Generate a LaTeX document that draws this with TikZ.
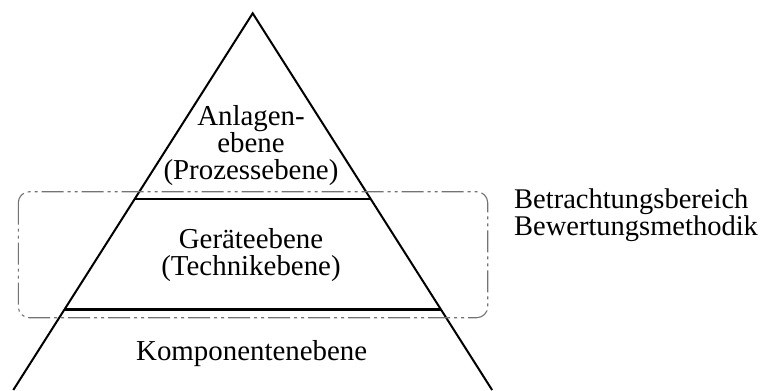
\documentclass[tikz,border=0pt]{standalone}
\usepackage{fontspec}
\setmainfont{Liberation Serif}
\usetikzlibrary{calc}
\begin{document}
\begin{tikzpicture}[x=1bp,y=-1bp,
  edge/.style={line width=2bp,line join=miter},
  level/.style={line width=2.6bp},
  scopebox/.style={draw=black!55,line width=1.1bp,rounded corners=11bp,
    dash pattern=on 22bp off 4bp on 3bp off 4bp on 3bp off 4bp},
  label/.style={font=\fontsize{29}{26.3}\selectfont,align=center,inner sep=0pt,anchor=base},
  side/.style={font=\fontsize{28.6}{25.2}\selectfont,align=left,inner sep=0pt,anchor=base west}]
\useasboundingbox (0,0) rectangle (765,390);
% pyramid outline
\coordinate (apex) at (252.7,13.3);
\coordinate (bl) at (13.3,390);
\coordinate (br) at (492.1,390);
\draw[edge] (bl) -- (apex) -- (br);
% level boundaries
\coordinate (l1) at ($(apex)!0.4934!(bl)$);
\coordinate (r1) at ($(apex)!0.4934!(br)$);
\coordinate (l2) at ($(apex)!0.7857!(bl)$);
\coordinate (r2) at ($(apex)!0.7857!(br)$);
\draw[level] (l1) -- (r1);
\draw[level] (l2) -- (r2);
% scope of the assessment method
\draw[scopebox] (18.3,191.7) rectangle (487.7,317.7);
% level labels (anchored at the baseline of the last line)
\node[label] (plant) at (251,179) {Anlagen-\\ebene\\(Prozessebene)};
\node[label] (device) at (251,275) {Geräteebene\\(Technikebene)};
\node[label] (component) at (251.7,360) {Komponentenebene};
\node[side] (note) at (514,235) {Betrachtungsbereich\\Bewertungsmethodik};
\end{tikzpicture}
\end{document}
